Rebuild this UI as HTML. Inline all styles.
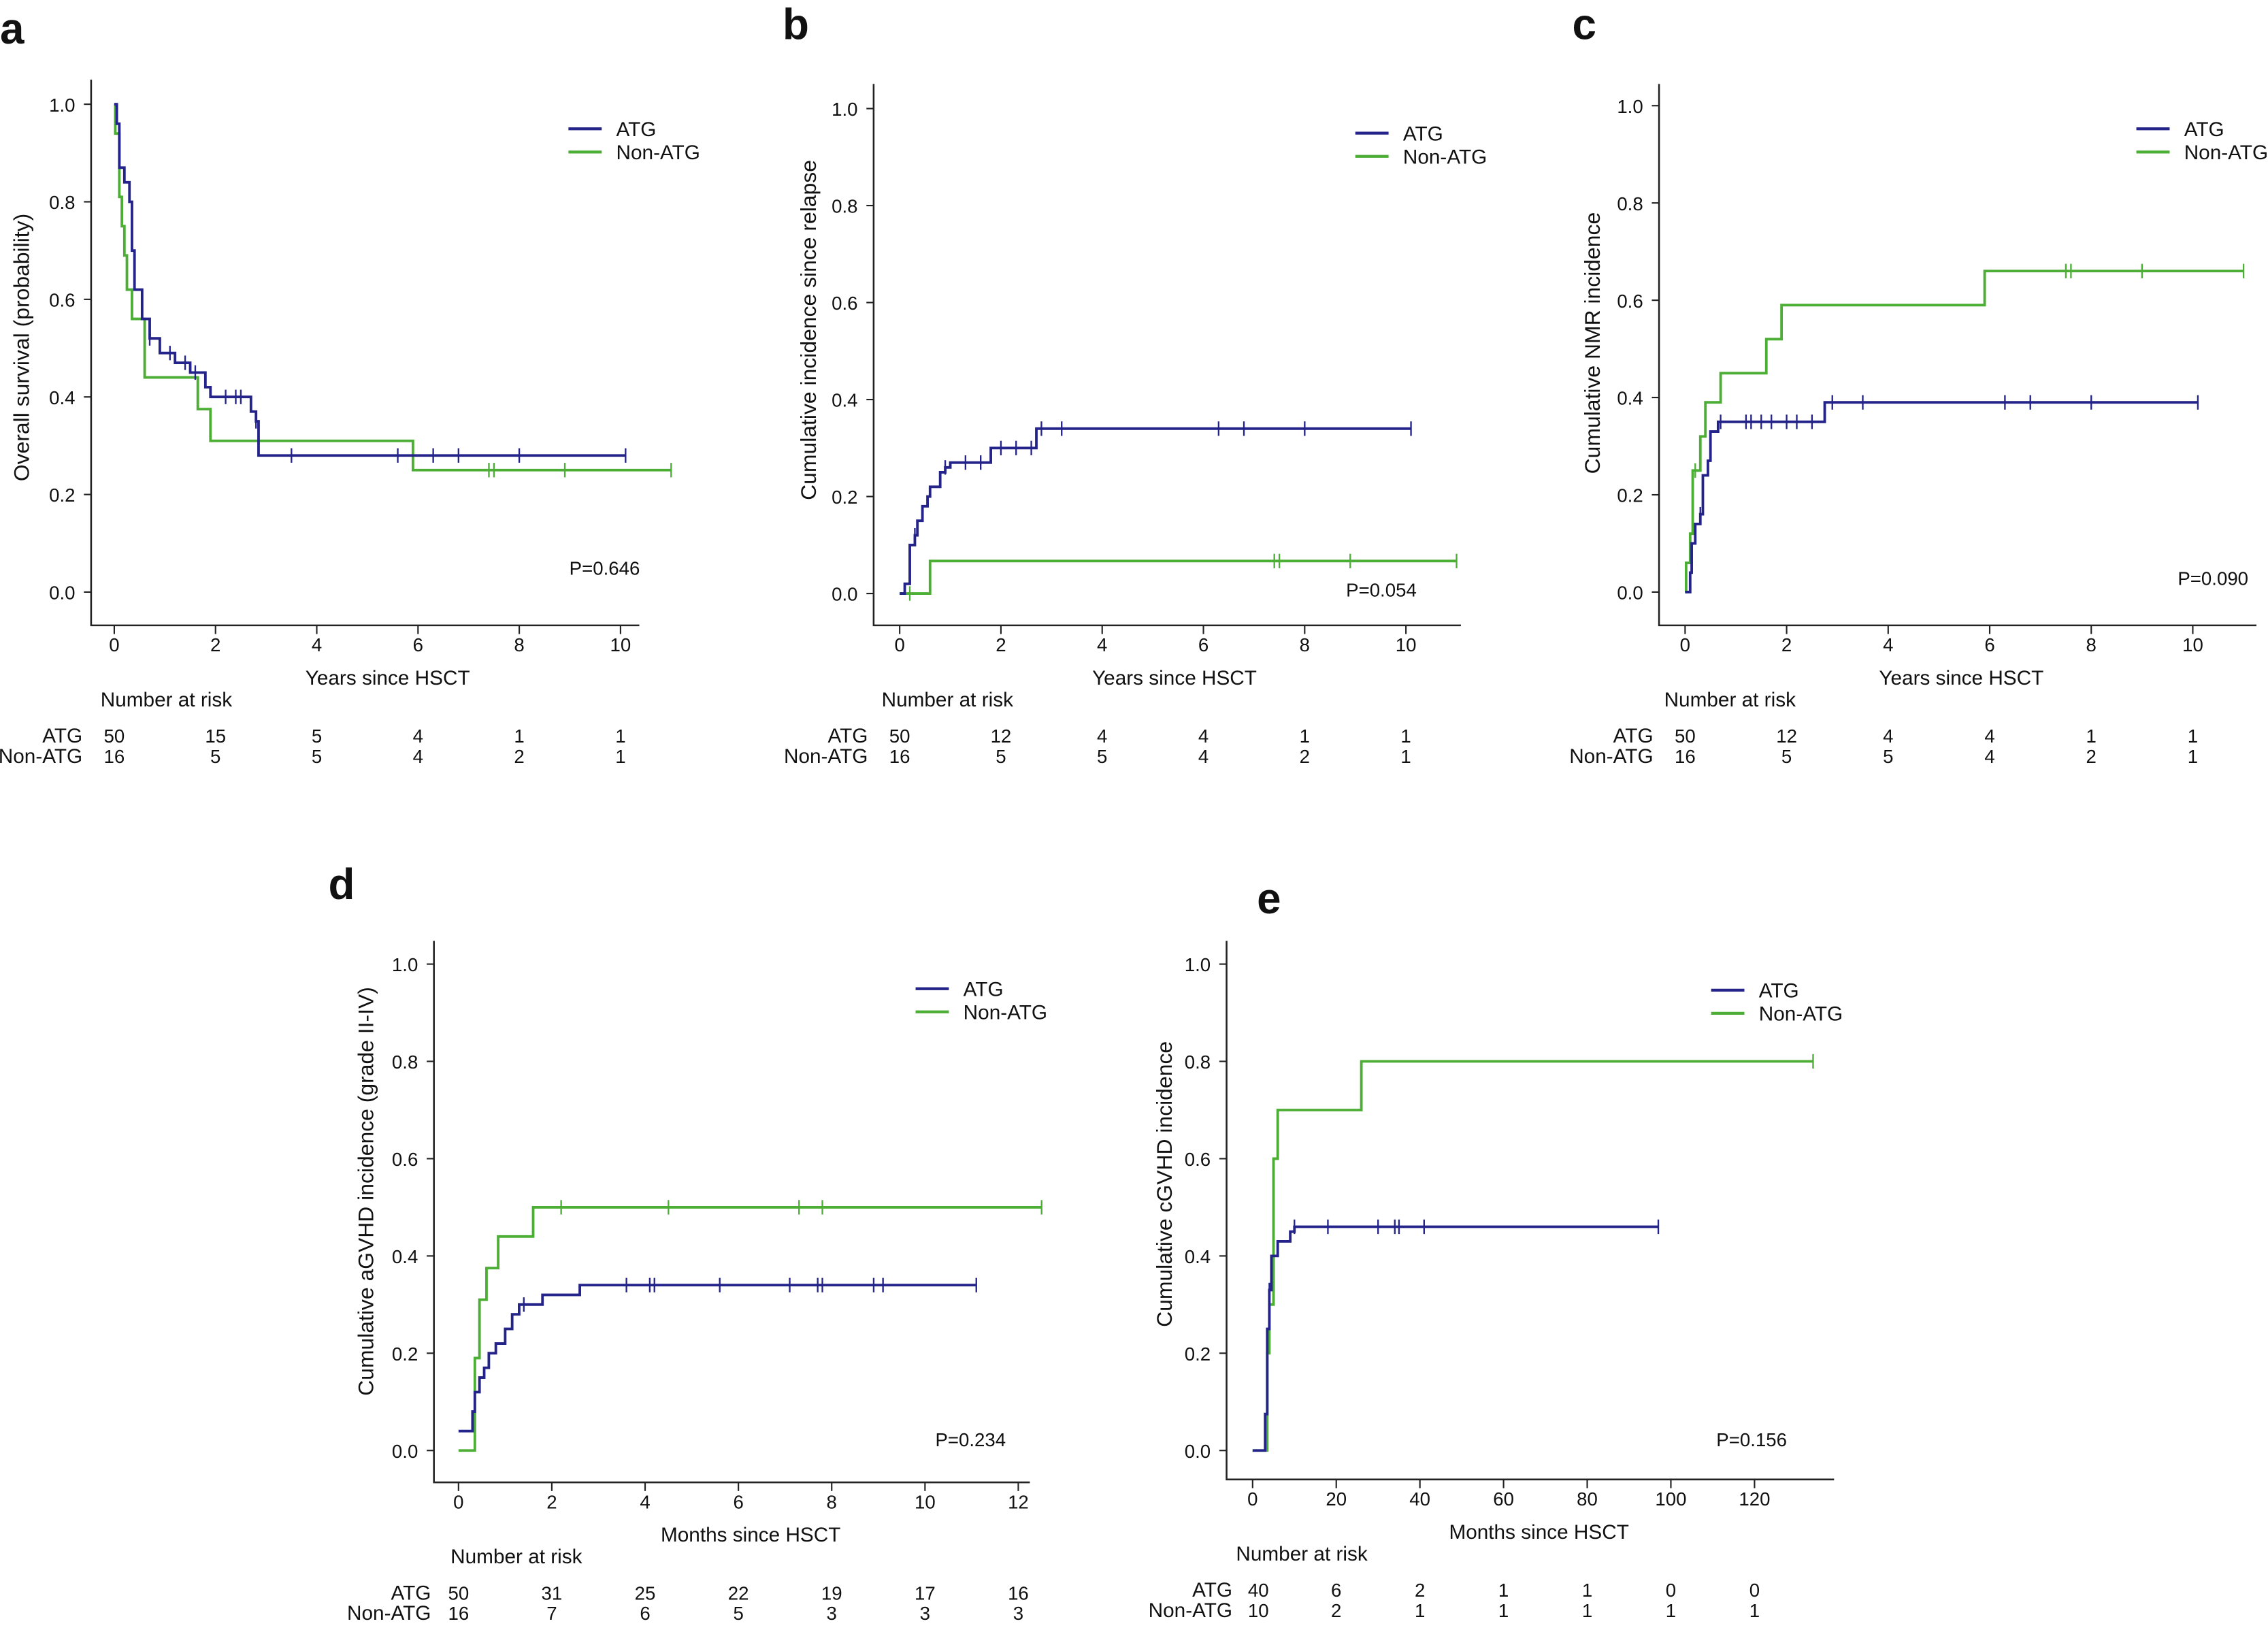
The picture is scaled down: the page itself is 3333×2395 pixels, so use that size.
<!DOCTYPE html>
<html><head><meta charset="utf-8">
<style>
html,body{margin:0;padding:0;background:#fff;}
svg{display:block;}
text{font-family:"Liberation Sans",Arial,sans-serif;fill:#111;}
</style></head>
<body>
<svg id="fig" width="3333" height="2395" viewBox="0 0 1568 1126" preserveAspectRatio="none" xmlns="http://www.w3.org/2000/svg"></svg>
<script>
const aAtgT=[0,0.05,0.1,0.2,0.3,0.35,0.4,0.55,0.7,0.9,1.2,1.5,1.8,1.9,2.7,2.8,2.85];
const aAtgV=[1.0,0.96,0.87,0.84,0.80,0.70,0.62,0.56,0.52,0.49,0.47,0.45,0.42,0.40,0.37,0.35,0.28];
const aAtgC=[0.7,1.1,1.4,1.6,2.2,2.4,2.5,2.8,3.5,5.6,6.3,6.8,8.0,10.1];
const aNonT=[0,0.02,0.1,0.15,0.2,0.25,0.35,0.6,1.65,1.9,5.9];
const aNonV=[1.0,0.94,0.81,0.75,0.69,0.62,0.56,0.44,0.375,0.31,0.25];
const aNonC=[7.4,7.5,8.9,11.0];
const bAtgT=[0,0.1,0.2,0.3,0.35,0.45,0.55,0.6,0.8,0.9,1.0,1.8,2.7];
const bAtgV=[0,0.02,0.10,0.12,0.15,0.18,0.20,0.22,0.25,0.26,0.27,0.30,0.34];
const bAtgC=[0.3,0.9,1.3,1.6,2.0,2.3,2.6,2.8,3.2,6.3,6.8,8.0,10.1];
const bNonT=[0,0.6];
const bNonV=[0,0.067];
const bNonC=[0.2,7.4,7.5,8.9,11.0];
const cAtgT=[0,0.1,0.13,0.2,0.3,0.35,0.45,0.5,0.65,2.75];
const cAtgV=[0,0.04,0.10,0.14,0.16,0.24,0.27,0.33,0.35,0.39];
const cAtgC=[0.3,0.7,1.2,1.3,1.5,1.7,2.0,2.2,2.5,2.9,3.5,6.3,6.8,8.0,10.1];
const cNonT=[0,0.02,0.1,0.15,0.3,0.4,0.7,1.6,1.9,5.9];
const cNonV=[0,0.06,0.12,0.25,0.32,0.39,0.45,0.52,0.59,0.66];
const cNonC=[0.2,7.5,7.6,9.0,11.0];
const dAtgT=[0,0.3,0.35,0.45,0.55,0.65,0.8,1.0,1.15,1.3,1.8,2.6];
const dAtgV=[0.04,0.08,0.12,0.15,0.17,0.20,0.22,0.25,0.28,0.30,0.32,0.34];
const dAtgC=[1.4,3.6,4.1,4.2,5.6,7.1,7.7,7.8,8.9,9.1,11.1];
const dNonT=[0,0.35,0.45,0.6,0.85,1.6];
const dNonV=[0,0.19,0.31,0.375,0.44,0.50];
const dNonC=[2.2,4.5,7.3,7.8,12.5];
const eAtgT=[0,3,3.5,4,4.5,6,9,10];
const eAtgV=[0,0.075,0.25,0.33,0.40,0.43,0.45,0.46];
const eAtgC=[4,10,18,30,34,35,41,97];
const eNonT=[0,3.5,4,5,6,26];
const eNonV=[0,0.2,0.3,0.6,0.7,0.8];
const eNonC=[134];
const riskYears=[0,2,4,6,8,10];
const aRiskAtg=[50,15,5,4,1,1], aRiskNon=[16,5,5,4,2,1];
const bRiskAtg=[50,12,4,4,1,1], bRiskNon=[16,5,5,4,2,1];
const cRiskAtg=[50,12,4,4,1,1], cRiskNon=[16,5,5,4,2,1];
const dRiskMonths=[0,2,4,6,8,10,12];
const dRiskAtg=[50,31,25,22,19,17,16], dRiskNon=[16,7,6,5,3,3,3];
const eRiskMonthsAll=[0,20,40,60,80,100,120];
const eRiskAtg=[40,6,2,1,1,0,0], eRiskNon=[10,2,1,1,1,1,1];
const yTicks=[0,0.2,0.4,0.6,0.8,1.0];
const yTickLabels=["0.0","0.2","0.4","0.6","0.8","1.0"];

const NS="http://www.w3.org/2000/svg";
const svg=document.getElementById('fig');
const ATG="#23238a", NON="#4cae34";
function el(tag,attrs,parent){const e=document.createElementNS(NS,tag);for(const k in attrs)e.setAttribute(k,attrs[k]);(parent||svg).appendChild(e);return e;}
function txt(x,y,s,size,anchor,parent,extra){const t=el('text',Object.assign({x:x,y:y,'font-size':size,'text-anchor':anchor||'start'},extra||{}),parent);t.textContent=s;return t;}

function panel(P){
  const g=el('g',{});
  
  
  const sx=v=>P.x0+v*(P.x1-P.x0)/P.xmax;
  const sy=v=>P.y0+(P.ytop-P.y0)*v;
  const fr=el('path',{d:`M${P.fl},${P.ft}V${P.fb}H${P.fr}`,fill:'none',stroke:'#222','stroke-width':1.2},g);
  
  
  yTicks.forEach((v,i)=>{
    el('line',{x1:P.fl-5,x2:P.fl,y1:sy(v),y2:sy(v),stroke:'#222','stroke-width':1},g);
    const t=txt(P.fl-11,sy(v)+5,yTickLabels[i],13,'end',g);
    
    
  });
  P.xt.forEach(v=>{
    el('line',{x1:sx(v),x2:sx(v),y1:P.fb,y2:P.fb+6,stroke:'#222','stroke-width':1},g);
    const t=txt(sx(v),P.fb+18,String(v),13,'middle',g);
    
    
  });
  function series(T,V,C,end,color,name){
    let d=`M${sx(T[0])},${sy(V[0])}`;
    for(let i=1;i<T.length;i++){d+=`H${sx(T[i])}V${sy(V[i])}`;}
    d+=`H${sx(end)}`;
    const p=el('path',{d:d,fill:'none',stroke:color,'stroke-width':1.8},g);
    
    
    C.forEach(c=>{
      let v=V[0];for(let i=0;i<T.length;i++){if(T[i]<=c)v=V[i];}
      const m=el('line',{x1:sx(c),x2:sx(c),y1:sy(v)-5,y2:sy(v)+5,stroke:color,'stroke-width':1.1},g);
      
      
    });
  }
  series(P.nT,P.nV,P.nC,Math.max(...P.nC,P.nT[P.nT.length-1]),NON,'non-atg');
  series(P.aT,P.aV,P.aC,Math.max(...P.aC,P.aT[P.aT.length-1]),ATG,'atg');
  const lg=el('g',{},g);
  
  
  el('line',{x1:P.lx,x2:P.lx+23,y1:P.ly,y2:P.ly,stroke:ATG,'stroke-width':2},lg);
  txt(P.lx+33,P.ly+5,'ATG',14,'start',lg);
  el('line',{x1:P.lx,x2:P.lx+23,y1:P.ly+16,y2:P.ly+16,stroke:NON,'stroke-width':2},lg);
  txt(P.lx+33,P.ly+21,'Non-ATG',14,'start',lg);
  const pv=txt(P.px,P.py,P.p,13,'middle',g);
  
  
  const xt=txt(P.xtx,P.fb+41,P.xtitle,14,'middle',g);
  
  
  const yt=txt(0,0,P.ytitle,15,'middle',g,{transform:`translate(${P.ytx},${P.yty}) rotate(-90)`});
  
  
  const nr=txt(P.nrx,P.fb+56,'Number at risk',14,'middle',g);
  
  
  txt(P.rl,P.fb+81,'ATG',14,'end',g);
  txt(P.rl,P.fb+95,'Non-ATG',14,'end',g);
  P.rx.forEach((v,i)=>{
    const a=txt(sx(v)+(i==0?P.r0:0),P.fb+81,String(P.ra[i]),13,'middle',g);
    
    
    const b=txt(sx(v)+(i==0?P.r0:0),P.fb+95,String(P.rn[i]),13,'middle',g);
    
    
  });
  const L=txt(P.letx,P.lety,P.id,30,'start',g,{'font-weight':'bold'});
  
  
}
const yrs=[0,2,4,6,8,10];
panel({id:'a',fl:63,ft:55,fb:432,fr:442,x0:79,x1:429,xmax:10,y0:409,ytop:72,xt:yrs,
 aT:aAtgT,aV:aAtgV,aC:aAtgC,nT:aNonT,nV:aNonV,nC:aNonC,lx:393,ly:89,p:'P=0.646',px:418,py:397,
 xtitle:'Years since HSCT',xtx:268,ytitle:'Overall survival (probability)',ytx:20,yty:240,nrx:115,rl:57,rx:riskYears,ra:aRiskAtg,rn:aRiskNon,r0:0,letx:0,lety:30});
panel({id:'b',fl:604,ft:58,fb:432,fr:1010,x0:622,x1:972,xmax:10,y0:410,ytop:75,xt:yrs,
 aT:bAtgT,aV:bAtgV,aC:bAtgC,nT:bNonT,nV:bNonV,nC:bNonC,lx:937,ly:92,p:'P=0.054',px:955,py:412,
 xtitle:'Years since HSCT',xtx:812,ytitle:'Cumulative incidence since relapse',ytx:564,yty:228,nrx:655,rl:600,rx:riskYears,ra:bRiskAtg,rn:bRiskNon,r0:0,letx:541,lety:27});
panel({id:'c',fl:1147,ft:58,fb:432,fr:1560,x0:1165,x1:1516,xmax:10,y0:409,ytop:73,xt:yrs,
 aT:cAtgT,aV:cAtgV,aC:cAtgC,nT:cNonT,nV:cNonV,nC:cNonC,lx:1477,ly:89,p:'P=0.090',px:1530,py:404,
 xtitle:'Years since HSCT',xtx:1356,ytitle:'Cumulative NMR incidence',ytx:1106,yty:237,nrx:1196,rl:1143,rx:riskYears,ra:cRiskAtg,rn:cRiskNon,r0:0,letx:1087,lety:27});
panel({id:'d',fl:300,ft:650,fb:1024,fr:712,x0:317,x1:704,xmax:12,y0:1002,ytop:666,xt:[0,2,4,6,8,10,12],
 aT:dAtgT,aV:dAtgV,aC:dAtgC,nT:dNonT,nV:dNonV,nC:dNonC,lx:633,ly:683,p:'P=0.234',px:671,py:999,
 xtitle:'Months since HSCT',xtx:519,ytitle:'Cumulative aGVHD incidence (grade II-IV)',ytx:258,yty:823,nrx:357,rl:298,rx:dRiskMonths,ra:dRiskAtg,rn:dRiskNon,r0:0,letx:227,lety:621});
panel({id:'e',fl:848,ft:650,fb:1022,fr:1268,x0:866,x1:1213,xmax:120,y0:1002,ytop:666,xt:[0,20,40,60,80,100,120],
 aT:eAtgT,aV:eAtgV,aC:eAtgC,nT:eNonT,nV:eNonV,nC:eNonC,lx:1183,ly:684,p:'P=0.156',px:1211,py:999,
 xtitle:'Months since HSCT',xtx:1064,ytitle:'Cumulative cGVHD incidence',ytx:810,yty:818,nrx:900,rl:852,rx:eRiskMonthsAll,ra:eRiskAtg,rn:eRiskNon,r0:4,letx:869,lety:631});
</script>
</body></html>
